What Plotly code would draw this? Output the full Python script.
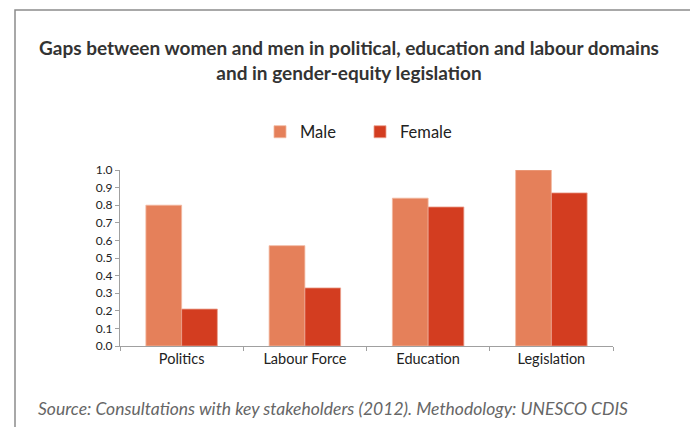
import plotly.graph_objects as go

categories = ["Politics", "Labour Force", "Education", "Legislation"]
male = [0.80, 0.57, 0.84, 1.00]
female = [0.21, 0.33, 0.79, 0.87]
y_ticks = [0.0, 0.1, 0.2, 0.3, 0.4, 0.5, 0.6, 0.7, 0.8, 0.9, 1.0]

FONT = "Lato"
OFF = 8  # page body margin offset
W, H = 698 - OFF, 427 - OFF
L = 120 - OFF
T = 170 - OFF
R = W - (613 - OFF)
B = H - (346 - OFF)
pw, ph = W - L - R, H - T - B

def px_x(px):
    return (px - OFF - L) / pw

def px_y(py):
    return (H - B - (py - OFF)) / ph

fig = go.Figure()
fig.add_trace(go.Bar(x=categories, y=male, name="Male",
                     marker=dict(color="#E5805A", line=dict(color="#F2B8A0", width=0.8))))
fig.add_trace(go.Bar(x=categories, y=female, name="Female",
                     marker=dict(color="#D33D20", line=dict(color="#EBA28F", width=0.8))))

fig.update_layout(
    width=W, height=H,
    margin=dict(l=L, r=R, t=T, b=B),
    paper_bgcolor="white", plot_bgcolor="white",
    barmode="group", bargap=0.42, bargroupgap=0,
    font=dict(family=FONT, color="#333333"),
    title=dict(
        text="<b>Gaps between women and men in political, education and labour domains<br>and in gender-equity legislation</b>",
        x=(349 - OFF) / W, xanchor="center", y=1 - (55 - OFF) / H, yanchor="middle",
        font=dict(family=FONT, size=19, color="#333333"),
    ),
    legend=dict(orientation="h", x=px_x(260), xanchor="left", y=px_y(132), yanchor="middle",
                font=dict(family=FONT, size=16.5, color="#222222"), itemwidth=30,
                entrywidth=55, entrywidthmode="pixels",
                bgcolor="rgba(0,0,0,0)"),
    xaxis=dict(showline=True, linecolor="#A0A0A0", linewidth=1, ticks="outside",
               tickson="boundaries", ticklen=4, tickcolor="#A0A0A0",
               tickfont=dict(family=FONT, size=14.5, color="#222222"), showgrid=False),
    yaxis=dict(range=[0, 1.0], tickvals=y_ticks, ticktext=[f"{v:.1f}" for v in y_ticks],
               showline=True, linecolor="#A0A0A0", linewidth=1, ticks="outside",
               ticklen=4, tickcolor="#A0A0A0", showgrid=False, zeroline=False,
               tickfont=dict(family=FONT, size=12, color="#222222")),
    shapes=[dict(type="rect", xref="paper", yref="paper",
                 x0=px_x(15), x1=px_x(696), y0=px_y(445), y1=px_y(10),
                 line=dict(color="#8C8C8C", width=1.5), fillcolor="rgba(0,0,0,0)", layer="below")],
    annotations=[dict(text="<i>Source: Consultations with key stakeholders (2012). Methodology: UNESCO CDIS</i>",
                      xref="paper", yref="paper", x=px_x(36), y=px_y(408), xanchor="left", yanchor="middle",
                      showarrow=False, font=dict(family=FONT, size=17.5, color="#666666"))],
)

fig.write_html("out.html")
